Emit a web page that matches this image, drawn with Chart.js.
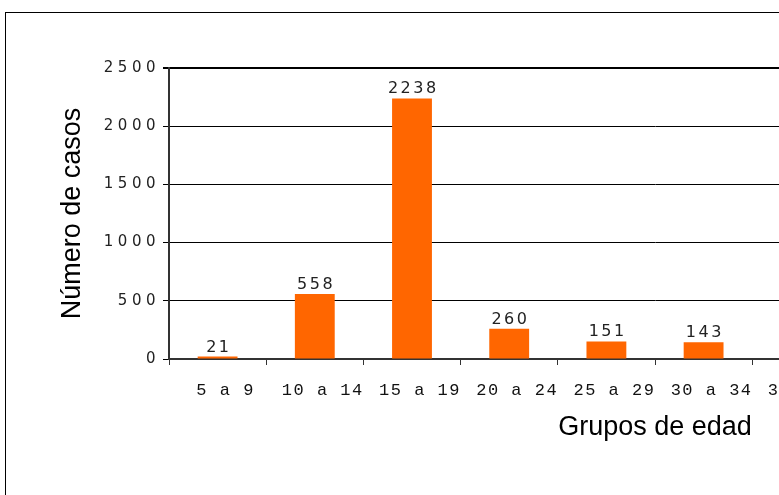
<!DOCTYPE html>
<html><head><meta charset="utf-8">
<script src="https://cdn.jsdelivr.net/npm/chart.js@4/dist/chart.umd.min.js"></script>
<style>
html,body{margin:0;padding:0;background:#fff;overflow:hidden;width:779px;height:495px;}
#frame{position:absolute;left:5px;top:12px;width:1200px;height:560px;border:1px solid #000;background:#fff;}
#wrap{position:absolute;left:0;top:0;width:1200px;height:560px;}
</style></head><body>
<div id="frame"><div id="wrap"><canvas id="c"></canvas></div></div>
<script>
// Categories (the reference is cropped on the right; hidden groups have unreadable values -> null)
const categories = ['5 a 9','10 a 14','15 a 19','20 a 24','25 a 29','30 a 34','35 a 39','40 a 44','45 a 49','50 a 54'];
const casos = [21, 558, 2238, 260, 151, 143, 200, null, null, null];
const yTicks = [0, 500, 1000, 1500, 2000, 2500];
const yTitle = 'Número de casos';
const xTitle = 'Grupos de edad';

const spacingPlugin = {
  id: 'spacing',
  beforeDraw(chart) {
    for (const id of ['x', 'y']) {
      const s = chart.scales[id];
      if (!s || s._spPatched) continue;
      const orig = s.drawLabels.bind(s);
      const sp = id === 'x' ? '1.5px' : '4.5px';
      s.drawLabels = function (area) {
        const c = chart.ctx; c.save(); c.letterSpacing = sp; orig(area); c.restore();
      };
      s._spPatched = true;
    }
  }
};

const valueLabels = {
  id: 'valueLabels',
  afterDatasetsDraw(chart) {
    const c = chart.ctx;
    const meta = chart.getDatasetMeta(0);
    c.save();
    c.letterSpacing = '2.5px';
    c.font = "16px 'DejaVu Sans', sans-serif";
    c.fillStyle = '#222';
    c.textAlign = 'center';
    c.textBaseline = 'alphabetic';
    meta.data.forEach((bar, i) => {
      const v = casos[i];
      if (v == null) return;
      c.fillText(String(v), bar.x + 1.25, bar.y - 5);
    });
    c.restore();
  }
};

Chart.defaults.font.family = "'Liberation Sans', Arial, sans-serif";
new Chart(document.getElementById('c'), {
  type: 'bar',
  data: {
    labels: categories,
    datasets: [{ data: casos, backgroundColor: '#FF6600', borderWidth: 0, barPercentage: 0.41, categoryPercentage: 1 }]
  },
  options: {
    responsive: true, maintainAspectRatio: false, animation: false,
    layout: { padding: { left: 10, top: 55, right: 65, bottom: 114 } },
    plugins: { legend: { display: false }, tooltip: { enabled: false } },
    scales: {
      x: {
        offset: true,
        grid: { display: true, drawOnChartArea: false, drawTicks: true, tickLength: 6, color: '#333', lineWidth: 1, offset: true },
        border: { color: '#333', width: 2 },
        ticks: { font: { family: "'Liberation Mono', monospace", size: 17 }, color: '#111', padding: 15, labelOffset: 8, maxRotation: 0, autoSkip: false },
        title: { display: true, text: xTitle, font: { size: 27 }, color: '#000', padding: { top: 0, bottom: 15 } },
        afterFit: s => { s.height = 100; }
      },
      y: {
        min: 0, max: 2500,
        afterBuildTicks: s => { s.ticks = yTicks.map(v => ({ value: v })); },
        grid: { color: '#000', lineWidth: ctx => (ctx.tick && ctx.tick.value === 2500 ? 2 : 1), tickLength: 6 },
        border: { color: '#333', width: 2 },
        ticks: { font: { family: "'DejaVu Sans', sans-serif", size: 15 }, color: '#222', padding: 3, callback: v => String(v) },
        title: { display: true, text: yTitle, font: { size: 27 }, color: '#000', padding: { top: 40, bottom: 0 } },
        afterFit: s => { s.width = 153; }
      }
    }
  },
  plugins: [spacingPlugin, valueLabels]
});
</script>
</body></html>
